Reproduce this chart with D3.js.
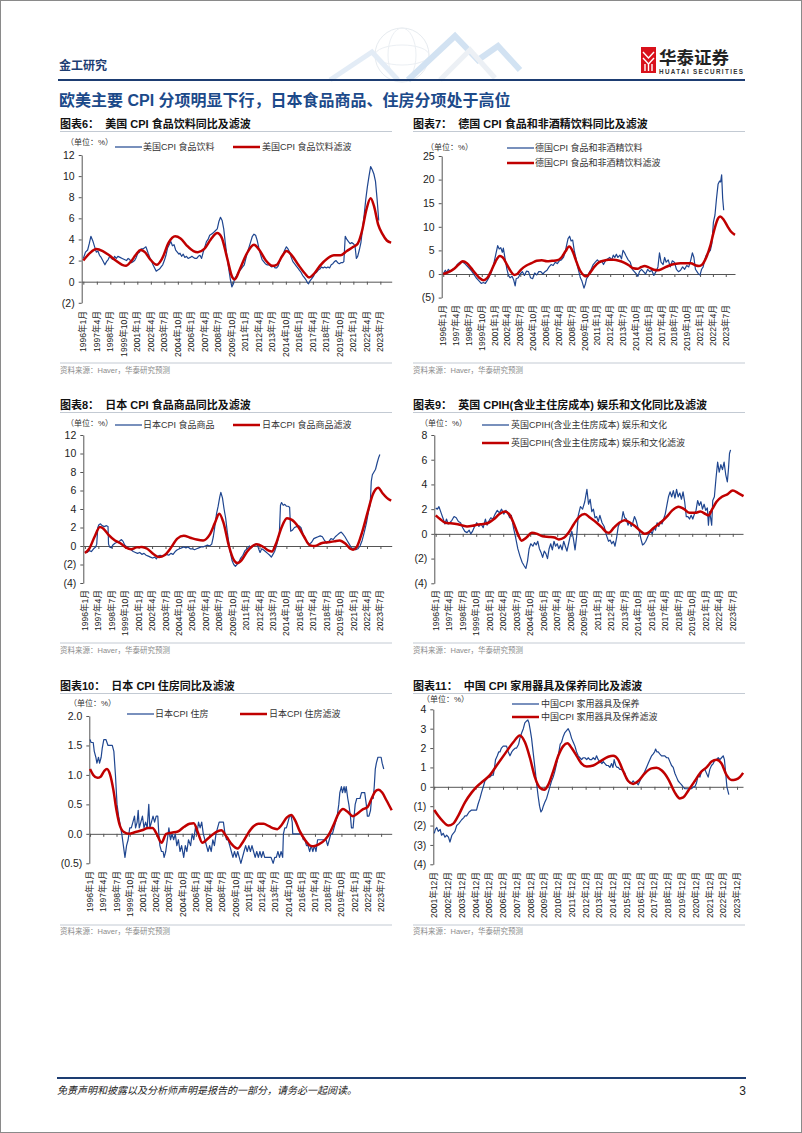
<!DOCTYPE html>
<html><head><meta charset="utf-8">
<script src="https://cdn.jsdelivr.net/npm/d3@7"></script>
<style>
body{margin:0;background:#fff;}
svg{display:block;}
text{font-family:"Liberation Sans","Noto Sans CJK SC",sans-serif;}
</style></head><body>
<svg id="page" width="802" height="1133"></svg>
<script>
// ---------------- DATA ----------------
const quarterLabels = ["1996年1月","1997年4月","1998年7月","1999年10月","2001年1月","2002年4月","2003年7月","2004年10月","2006年1月","2007年4月","2008年7月","2009年10月","2011年1月","2012年4月","2013年7月","2014年10月","2016年1月","2017年4月","2018年7月","2019年10月","2021年1月","2022年4月","2023年7月"];
const yearLabels = ["2001年12月","2002年12月","2003年12月","2004年12月","2005年12月","2006年12月","2007年12月","2008年12月","2009年12月","2010年12月","2011年12月","2012年12月","2013年12月","2014年12月","2015年12月","2016年12月","2017年12月","2018年12月","2019年12月","2020年12月","2021年12月","2022年12月","2023年12月"];

const usYTicks = [-2,0,2,4,6,8,10,12];
const deYTicks = [-5,0,5,10,15,20,25];
const jpFoodYTicks = [-4,-2,0,2,4,6,8,10,12];
const ukYTicks = [-4,-2,0,2,4,6,8];
const jpHouseYTicks = [-0.5,0,0.5,1.0,1.5,2.0];
const cnYTicks = [-4,-3,-2,-1,0,1,2,3,4];

const usFoodActual = [[1996.0,2.2],[1996.2,2.8],[1996.4,3.0],[1996.55,3.6],[1996.7,4.3],[1996.9,3.8],[1997.05,3.3],[1997.2,2.8],[1997.35,2.9],[1997.5,2.5],[1997.65,2.3],[1997.8,2.0],[1998.0,1.6],[1998.15,1.9],[1998.3,2.1],[1998.45,2.4],[1998.6,2.2],[1998.75,2.1],[1998.9,2.4],[1999.05,2.2],[1999.2,2.4],[1999.4,2.3],[1999.6,2.2],[1999.8,2.1],[2000.0,2.0],[2000.15,2.2],[2000.3,2.1],[2000.45,1.8],[2000.6,1.9],[2000.75,2.0],[2000.9,2.3],[2001.05,2.7],[2001.2,2.8],[2001.35,3.1],[2001.5,3.1],[2001.65,3.2],[2001.8,3.3],[2001.9,3.0],[2002.0,2.7],[2002.15,2.3],[2002.3,2.0],[2002.45,1.6],[2002.6,1.3],[2002.75,1.0],[2002.9,1.1],[2003.05,1.2],[2003.2,1.4],[2003.35,1.6],[2003.5,2.0],[2003.65,2.5],[2003.8,3.2],[2003.95,3.5],[2004.1,3.8],[2004.25,3.4],[2004.4,3.5],[2004.55,3.0],[2004.7,2.8],[2004.85,2.6],[2004.95,2.7],[2005.1,2.4],[2005.25,2.6],[2005.4,2.3],[2005.55,2.4],[2005.7,2.2],[2005.9,2.3],[2006.05,2.4],[2006.2,2.3],[2006.35,2.2],[2006.5,2.2],[2006.65,2.4],[2006.8,2.5],[2006.95,2.2],[2007.1,2.8],[2007.25,3.3],[2007.4,3.8],[2007.55,4.0],[2007.7,4.4],[2007.85,4.5],[2008.0,4.6],[2008.2,4.8],[2008.4,5.0],[2008.55,5.7],[2008.7,6.1],[2008.85,5.8],[2009.0,5.0],[2009.15,3.6],[2009.3,2.4],[2009.45,1.3],[2009.6,0.3],[2009.75,-0.5],[2009.9,-0.2],[2010.0,0.3],[2010.15,0.5],[2010.3,0.8],[2010.45,1.0],[2010.6,1.2],[2010.75,1.4],[2010.9,1.6],[2011.05,2.2],[2011.2,2.8],[2011.35,3.3],[2011.5,3.8],[2011.65,4.3],[2011.8,4.5],[2011.95,4.4],[2012.1,3.9],[2012.25,3.2],[2012.4,2.6],[2012.55,2.1],[2012.7,1.9],[2012.85,1.7],[2013.0,1.6],[2013.15,1.6],[2013.3,1.5],[2013.45,1.4],[2013.6,1.5],[2013.75,1.3],[2013.9,1.3],[2014.05,1.5],[2014.2,2.0],[2014.35,2.4],[2014.5,2.6],[2014.65,3.0],[2014.8,3.3],[2014.95,3.1],[2015.1,2.8],[2015.25,2.3],[2015.4,1.9],[2015.55,1.7],[2015.7,1.5],[2015.85,1.3],[2016.0,1.1],[2016.15,0.9],[2016.3,0.6],[2016.45,0.4],[2016.6,0.2],[2016.75,-0.1],[2016.85,-0.2],[2017.0,0.1],[2017.15,0.3],[2017.3,0.5],[2017.45,0.8],[2017.6,0.9],[2017.75,1.1],[2017.9,1.2],[2018.05,1.4],[2018.2,1.3],[2018.35,1.4],[2018.5,1.3],[2018.65,1.4],[2018.8,1.3],[2018.95,1.6],[2019.1,1.7],[2019.25,1.9],[2019.4,2.0],[2019.55,1.8],[2019.7,1.7],[2019.85,1.8],[2020.0,1.8],[2020.12,1.9],[2020.25,4.3],[2020.4,4.0],[2020.55,3.8],[2020.7,3.6],[2020.85,3.7],[2021.0,3.6],[2021.15,3.4],[2021.28,2.2],[2021.4,2.4],[2021.55,3.0],[2021.7,3.7],[2021.85,5.0],[2022.0,6.3],[2022.15,7.8],[2022.3,9.0],[2022.45,10.0],[2022.6,10.9],[2022.75,10.6],[2022.9,10.2],[2023.05,9.5],[2023.2,7.8],[2023.35,5.8]];
const usFoodFilter = [[1996.0,2.0],[1996.6,2.7],[1997.2,3.1],[1997.8,2.9],[1998.4,2.5],[1999.0,2.0],[1999.6,1.6],[1999.95,1.5],[2000.4,1.9],[2000.9,2.6],[2001.3,3.0],[2001.7,2.8],[2002.2,2.1],[2002.8,1.6],[2003.3,2.2],[2003.9,3.7],[2004.5,4.3],[2005.0,4.1],[2005.6,3.4],[2006.2,2.9],[2006.6,2.8],[2007.2,3.1],[2007.8,4.0],[2008.4,4.6],[2008.8,4.2],[2009.3,2.3],[2009.8,0.4],[2010.0,0.2],[2010.5,1.2],[2011.1,2.6],[2011.8,3.5],[2012.3,3.0],[2012.9,2.0],[2013.5,1.5],[2013.9,1.6],[2014.4,2.4],[2014.8,2.9],[2015.3,2.5],[2015.9,1.6],[2016.5,0.8],[2016.9,0.4],[2017.4,0.8],[2017.9,1.5],[2018.6,2.2],[2019.2,2.5],[2019.8,2.5],[2020.4,2.9],[2021.0,3.3],[2021.4,3.6],[2021.8,4.8],[2022.2,6.8],[2022.6,7.9],[2022.9,7.2],[2023.3,5.4],[2023.7,4.5],[2024.1,3.9],[2024.5,3.7]];

const deFoodActual = [[1996.0,0.0],[1996.2,0.8],[1996.35,0.3],[1996.5,1.0],[1996.7,0.5],[1996.9,1.0],[1997.1,1.2],[1997.3,1.8],[1997.5,2.3],[1997.7,2.6],[1997.9,2.5],[1998.1,2.2],[1998.4,1.5],[1998.7,0.8],[1998.9,0.2],[1999.2,-0.8],[1999.5,-1.5],[1999.7,-2.0],[1999.9,-1.8],[2000.1,-2.0],[2000.3,-1.3],[2000.5,-0.5],[2000.7,0.5],[2000.9,2.0],[2001.1,4.0],[2001.3,6.0],[2001.45,5.3],[2001.6,5.6],[2001.75,4.6],[2001.85,5.5],[2002.0,3.5],[2002.2,1.0],[2002.35,-0.3],[2002.5,-0.8],[2002.7,-0.5],[2002.85,-1.2],[2003.0,-2.5],[2003.1,-1.0],[2003.3,-0.8],[2003.5,0.0],[2003.7,0.5],[2003.9,-0.3],[2004.1,0.6],[2004.3,0.5],[2004.5,-0.8],[2004.7,-1.0],[2004.9,0.2],[2005.1,-0.2],[2005.3,0.5],[2005.5,0.5],[2005.7,0.0],[2005.9,0.5],[2006.1,0.8],[2006.3,1.5],[2006.5,2.0],[2006.7,1.8],[2006.9,2.5],[2007.1,2.2],[2007.3,2.8],[2007.5,3.0],[2007.7,3.5],[2007.85,4.5],[2008.0,6.0],[2008.15,7.5],[2008.3,8.0],[2008.45,7.0],[2008.6,7.2],[2008.75,5.0],[2008.9,3.5],[2009.05,1.8],[2009.2,0.5],[2009.35,-0.8],[2009.5,-1.5],[2009.7,-3.0],[2009.85,-2.0],[2009.95,-1.0],[2010.1,-0.5],[2010.25,0.5],[2010.4,1.0],[2010.6,2.0],[2010.8,2.5],[2011.0,3.0],[2011.2,2.5],[2011.4,2.8],[2011.6,2.0],[2011.8,2.8],[2012.0,3.2],[2012.2,3.5],[2012.4,3.0],[2012.55,4.0],[2012.7,3.5],[2012.85,4.2],[2013.0,3.5],[2013.2,4.0],[2013.35,3.2],[2013.5,5.0],[2013.65,4.5],[2013.8,3.8],[2014.0,3.0],[2014.2,2.5],[2014.4,1.0],[2014.6,0.5],[2014.8,0.0],[2014.95,-0.5],[2015.1,0.5],[2015.3,1.0],[2015.5,0.5],[2015.7,0.0],[2015.9,1.0],[2016.1,0.5],[2016.3,0.8],[2016.5,-0.3],[2016.7,0.5],[2016.9,1.5],[2017.05,4.5],[2017.2,2.5],[2017.4,2.0],[2017.55,3.5],[2017.7,2.5],[2017.9,3.0],[2018.1,1.5],[2018.3,2.8],[2018.5,2.5],[2018.7,1.0],[2018.9,0.5],[2019.1,0.8],[2019.3,1.5],[2019.5,1.0],[2019.7,1.8],[2019.9,1.5],[2020.1,3.0],[2020.25,4.5],[2020.4,3.5],[2020.55,1.0],[2020.7,0.5],[2020.85,0.0],[2021.0,-0.2],[2021.15,1.0],[2021.3,1.5],[2021.45,3.0],[2021.6,4.0],[2021.8,4.5],[2022.0,5.0],[2022.15,6.5],[2022.3,11.0],[2022.45,12.5],[2022.6,16.0],[2022.75,19.0],[2022.9,19.7],[2023.0,19.5],[2023.1,21.0],[2023.2,16.0],[2023.3,13.5]];
const deFoodFilter = [[1996.0,0.0],[1996.5,0.4],[1997.0,1.0],[1997.5,2.0],[1997.9,2.7],[1998.3,2.3],[1998.7,1.3],[1999.1,0.2],[1999.5,-0.8],[1999.9,-1.3],[2000.3,-0.8],[2000.7,0.8],[2001.1,2.7],[2001.5,3.8],[2001.8,3.5],[2002.2,2.0],[2002.6,0.5],[2002.9,-0.2],[2003.2,0.0],[2003.6,1.0],[2004.1,1.8],[2004.6,2.3],[2005.1,2.8],[2005.6,2.9],[2006.1,2.7],[2006.6,2.8],[2007.1,2.9],[2007.5,3.5],[2007.9,4.8],[2008.25,5.8],[2008.6,4.8],[2008.9,3.0],[2009.3,0.8],[2009.7,-0.3],[2009.95,-0.5],[2010.3,0.3],[2010.7,1.5],[2011.1,2.4],[2011.6,2.8],[2012.1,3.0],[2012.6,3.0],[2013.1,2.8],[2013.6,2.4],[2014.1,1.8],[2014.5,1.2],[2014.9,1.1],[2015.3,1.5],[2015.6,1.7],[2016.0,1.4],[2016.5,0.9],[2016.9,0.8],[2017.4,1.2],[2017.9,1.7],[2018.5,2.1],[2019.1,2.3],[2019.6,2.3],[2020.1,2.3],[2020.6,1.8],[2020.9,1.7],[2021.2,2.0],[2021.6,3.5],[2022.0,6.0],[2022.4,9.5],[2022.75,11.8],[2022.95,12.2],[2023.3,11.5],[2023.7,10.0],[2024.0,9.0],[2024.4,8.3]];

const jpFoodActual = [[1996.0,-0.6],[1996.2,-0.7],[1996.4,-0.5],[1996.6,-0.6],[1996.8,-0.3],[1997.0,-0.1],[1997.1,0.2],[1997.2,2.0],[1997.3,2.3],[1997.45,2.4],[1997.6,2.2],[1997.8,2.1],[1998.0,2.2],[1998.15,2.1],[1998.2,0.2],[1998.3,-0.1],[1998.45,-0.2],[1998.6,0.1],[1998.8,0.3],[1999.0,0.4],[1999.2,0.5],[1999.4,0.7],[1999.55,0.5],[1999.7,0.1],[1999.9,-0.1],[2000.1,-0.3],[2000.3,-0.4],[2000.5,-0.6],[2000.7,-0.7],[2000.9,-0.8],[2001.1,-0.7],[2001.3,-0.9],[2001.5,-0.8],[2001.7,-1.0],[2001.9,-1.1],[2002.1,-1.2],[2002.3,-1.3],[2002.5,-1.2],[2002.65,-1.4],[2002.8,-1.1],[2003.0,-1.0],[2003.2,-1.1],[2003.4,-1.0],[2003.6,-0.9],[2003.8,-1.0],[2004.0,-0.8],[2004.2,-0.9],[2004.4,-0.6],[2004.6,-0.4],[2004.8,-0.3],[2005.0,-0.2],[2005.2,-0.1],[2005.4,-0.2],[2005.6,-0.1],[2005.8,-0.3],[2006.0,-0.3],[2006.2,-0.4],[2006.4,-0.3],[2006.6,-0.2],[2006.8,-0.1],[2007.0,-0.1],[2007.2,0.0],[2007.4,0.1],[2007.6,0.0],[2007.8,0.2],[2007.95,1.0],[2008.1,2.2],[2008.25,3.5],[2008.4,4.3],[2008.55,5.3],[2008.65,5.8],[2008.8,5.2],[2008.95,4.0],[2009.1,3.0],[2009.25,1.5],[2009.4,0.3],[2009.55,-0.8],[2009.7,-1.6],[2009.85,-2.0],[2010.0,-2.2],[2010.15,-2.0],[2010.3,-1.8],[2010.5,-1.3],[2010.7,-1.0],[2010.9,-0.5],[2011.1,-0.3],[2011.3,0.0],[2011.5,-0.2],[2011.7,0.1],[2011.9,0.2],[2012.05,0.1],[2012.2,-0.4],[2012.3,-0.7],[2012.45,-0.3],[2012.6,-0.4],[2012.8,-0.6],[2013.0,-0.8],[2013.2,-1.0],[2013.35,-1.2],[2013.5,-0.9],[2013.65,-0.6],[2013.8,-0.1],[2013.95,0.6],[2014.1,1.5],[2014.2,4.4],[2014.3,4.7],[2014.45,4.4],[2014.6,4.5],[2014.75,4.3],[2014.9,4.3],[2015.05,4.2],[2015.15,1.6],[2015.3,1.7],[2015.5,2.0],[2015.7,2.1],[2015.9,2.2],[2016.1,2.0],[2016.3,1.3],[2016.5,0.8],[2016.7,0.4],[2016.9,0.2],[2017.1,0.4],[2017.3,0.8],[2017.5,0.9],[2017.7,1.0],[2017.9,1.1],[2018.1,1.0],[2018.3,0.6],[2018.5,0.3],[2018.7,0.5],[2018.9,0.8],[2019.1,0.7],[2019.3,1.0],[2019.5,1.2],[2019.7,1.4],[2019.85,1.5],[2020.0,1.3],[2020.2,1.0],[2020.4,0.6],[2020.6,0.2],[2020.8,-0.2],[2021.0,-0.3],[2021.2,-0.4],[2021.4,-0.3],[2021.6,0.0],[2021.8,0.6],[2022.0,1.5],[2022.2,2.5],[2022.4,3.8],[2022.55,4.5],[2022.65,7.0],[2022.75,7.7],[2022.9,8.0],[2023.05,8.3],[2023.2,9.0],[2023.35,9.6],[2023.45,9.9]];
const jpFoodFilter = [[1996.0,-0.75],[1996.4,-0.3],[1996.9,1.0],[1997.4,2.05],[1997.7,1.9],[1998.2,1.2],[1998.8,0.6],[1999.3,0.3],[1999.8,-0.15],[2000.3,-0.35],[2000.8,-0.15],[2001.3,-0.1],[2001.8,-0.3],[2002.4,-0.9],[2002.9,-1.2],[2003.4,-1.0],[2004.0,-0.2],[2004.6,0.8],[2005.2,1.1],[2005.8,0.9],[2006.4,0.7],[2007.0,0.6],[2007.6,1.2],[2008.1,2.5],[2008.5,3.5],[2008.9,2.5],[2009.4,0.0],[2009.9,-1.6],[2010.2,-1.85],[2010.6,-1.5],[2011.1,-0.6],[2011.6,0.0],[2012.0,0.2],[2012.6,-0.1],[2013.1,-0.5],[2013.4,-0.6],[2013.8,0.3],[2014.3,2.0],[2014.8,3.0],[2015.3,2.8],[2015.9,2.0],[2016.4,1.0],[2016.9,0.1],[2017.4,0.0],[2018.0,0.3],[2018.6,0.4],[2019.2,0.5],[2019.7,0.6],[2020.2,0.3],[2020.7,-0.3],[2020.95,-0.4],[2021.3,-0.1],[2021.8,1.5],[2022.3,3.6],[2022.8,5.6],[2023.3,6.3],[2023.7,5.7],[2024.1,5.2],[2024.5,4.9]];

const ukRecActual = [[1996.0,2.1],[1996.15,2.0],[1996.3,2.2],[1996.5,1.7],[1996.7,1.2],[1996.85,0.8],[1997.0,1.2],[1997.15,0.8],[1997.3,0.9],[1997.5,1.1],[1997.7,1.4],[1997.9,1.3],[1998.1,1.0],[1998.3,0.9],[1998.5,0.5],[1998.7,0.2],[1998.9,0.1],[1999.1,0.3],[1999.25,0.0],[1999.4,0.2],[1999.6,0.6],[1999.8,0.9],[2000.0,0.6],[2000.2,0.8],[2000.4,0.5],[2000.6,1.2],[2000.75,0.7],[2000.9,1.0],[2001.1,1.3],[2001.3,1.2],[2001.5,1.6],[2001.7,1.9],[2001.9,1.7],[2002.1,2.0],[2002.3,1.6],[2002.5,1.9],[2002.7,1.6],[2002.85,1.3],[2003.0,1.5],[2003.2,0.5],[2003.4,-0.3],[2003.6,-1.2],[2003.8,-1.8],[2004.0,-2.3],[2004.2,-2.6],[2004.35,-2.8],[2004.5,-2.2],[2004.65,-1.2],[2004.8,-0.8],[2005.0,-1.0],[2005.15,-0.7],[2005.3,-0.9],[2005.45,-0.6],[2005.6,-1.2],[2005.75,-1.5],[2005.9,-1.9],[2006.05,-1.4],[2006.2,-1.6],[2006.35,-2.0],[2006.5,-1.2],[2006.65,-0.8],[2006.8,-1.3],[2006.95,-0.6],[2007.1,-1.0],[2007.25,-0.8],[2007.4,-1.2],[2007.55,-0.9],[2007.7,-1.3],[2007.85,-0.6],[2008.0,-1.0],[2008.15,-1.4],[2008.3,-0.8],[2008.45,-0.2],[2008.6,0.2],[2008.75,-0.4],[2008.9,-1.3],[2009.05,-0.2],[2009.2,1.5],[2009.4,2.2],[2009.6,2.0],[2009.8,2.6],[2010.0,3.6],[2010.15,2.4],[2010.3,2.8],[2010.45,1.8],[2010.6,2.0],[2010.75,1.3],[2010.9,1.4],[2011.05,1.0],[2011.2,1.5],[2011.4,0.9],[2011.6,0.6],[2011.8,-0.1],[2012.0,-0.6],[2012.15,-0.5],[2012.3,-0.8],[2012.45,-0.6],[2012.6,-1.0],[2012.75,-0.3],[2012.9,0.6],[2013.05,0.9],[2013.2,1.0],[2013.35,1.8],[2013.5,1.3],[2013.65,1.2],[2013.8,0.7],[2013.95,1.0],[2014.1,0.6],[2014.25,0.9],[2014.4,1.4],[2014.55,1.1],[2014.7,0.6],[2014.85,0.2],[2015.0,-0.4],[2015.15,-0.9],[2015.3,-0.8],[2015.45,-0.6],[2015.6,-0.3],[2015.75,0.0],[2015.9,0.2],[2016.05,0.0],[2016.2,0.5],[2016.35,0.3],[2016.5,0.9],[2016.65,0.6],[2016.8,1.0],[2016.95,0.8],[2017.1,1.2],[2017.25,1.6],[2017.4,2.3],[2017.55,3.0],[2017.7,3.4],[2017.85,3.0],[2018.0,3.5],[2018.15,2.9],[2018.3,3.6],[2018.45,3.0],[2018.6,3.3],[2018.75,2.8],[2018.9,3.4],[2019.05,2.6],[2019.2,1.4],[2019.35,1.4],[2019.5,1.2],[2019.65,1.5],[2019.8,1.2],[2019.95,1.6],[2020.1,1.9],[2020.25,2.7],[2020.4,2.3],[2020.55,2.6],[2020.7,2.0],[2020.85,2.4],[2021.0,1.9],[2021.15,2.1],[2021.25,0.7],[2021.35,1.8],[2021.45,1.3],[2021.55,0.7],[2021.65,2.7],[2021.8,3.0],[2021.95,4.5],[2022.1,5.8],[2022.25,5.0],[2022.4,5.6],[2022.55,5.2],[2022.7,5.8],[2022.85,4.8],[2023.0,4.2],[2023.1,5.2],[2023.2,6.5],[2023.3,6.8]];
const ukRecFilter = [[1996.0,1.5],[1996.4,1.2],[1996.9,0.9],[1997.4,0.85],[1997.9,0.8],[1998.4,0.7],[1998.9,0.6],[1999.4,0.65],[1999.9,0.75],[2000.4,0.8],[2000.9,0.9],[2001.4,1.2],[2001.9,1.6],[2002.4,1.8],[2002.8,1.6],[2003.2,0.9],[2003.6,0.0],[2003.95,-0.55],[2004.4,-0.3],[2004.9,0.1],[2005.4,0.0],[2005.9,-0.2],[2006.5,-0.25],[2007.0,-0.3],[2007.4,-0.45],[2007.9,-0.3],[2008.3,0.1],[2008.8,0.8],[2009.3,1.4],[2009.8,1.6],[2010.3,1.3],[2010.9,0.9],[2011.4,0.5],[2011.8,0.15],[2012.05,0.1],[2012.5,0.5],[2013.0,0.9],[2013.5,1.1],[2014.0,0.9],[2014.5,0.6],[2015.0,0.2],[2015.35,0.0],[2015.7,0.1],[2016.2,0.5],[2016.8,0.9],[2017.4,1.4],[2017.9,1.9],[2018.5,2.2],[2019.0,2.0],[2019.5,1.7],[2020.0,1.7],[2020.5,1.8],[2021.0,1.6],[2021.25,1.5],[2021.6,2.0],[2022.0,2.6],[2022.5,3.0],[2023.0,3.2],[2023.5,3.5],[2024.0,3.3],[2024.5,3.05]];

const jpHousingActual = [[1996.0,1.6],[1996.1,1.55],[1996.3,1.55],[1996.4,1.4],[1996.55,1.3],[1996.65,1.2],[1996.8,1.3],[1996.9,1.2],[1997.05,1.3],[1997.15,1.45],[1997.3,1.6],[1997.5,1.6],[1997.6,1.55],[1997.7,1.5],[1997.9,1.5],[1998.1,1.5],[1998.25,1.4],[1998.4,1.0],[1998.55,0.5],[1998.7,0.3],[1998.85,0.15],[1999.0,0.0],[1999.15,-0.2],[1999.3,-0.4],[1999.45,-0.2],[1999.6,-0.1],[1999.75,0.1],[1999.9,0.1],[2000.05,0.2],[2000.2,0.3],[2000.3,0.1],[2000.45,0.2],[2000.55,0.4],[2000.65,0.1],[2000.8,0.2],[2000.95,0.3],[2001.1,0.1],[2001.25,0.2],[2001.4,0.1],[2001.55,0.5],[2001.65,0.1],[2001.8,0.2],[2001.95,0.3],[2002.1,0.2],[2002.25,0.3],[2002.4,0.3],[2002.5,0.0],[2002.6,-0.2],[2002.75,-0.3],[2002.9,-0.3],[2003.0,-0.4],[2003.15,-0.3],[2003.3,-0.1],[2003.45,0.1],[2003.6,-0.1],[2003.75,0.0],[2003.9,-0.1],[2004.05,0.0],[2004.2,-0.2],[2004.35,-0.1],[2004.5,-0.3],[2004.65,-0.2],[2004.85,-0.4],[2005.0,-0.2],[2005.15,-0.3],[2005.3,-0.1],[2005.5,-0.2],[2005.65,0.0],[2005.8,-0.1],[2005.95,0.1],[2006.1,0.0],[2006.25,0.2],[2006.4,0.1],[2006.55,0.2],[2006.7,0.0],[2006.85,-0.1],[2007.0,-0.2],[2007.15,-0.3],[2007.3,-0.2],[2007.45,-0.3],[2007.6,-0.1],[2007.75,-0.2],[2007.9,0.0],[2008.05,0.1],[2008.2,0.2],[2008.4,0.2],[2008.6,0.2],[2008.75,0.0],[2008.9,-0.1],[2009.05,-0.1],[2009.2,-0.2],[2009.35,-0.3],[2009.5,-0.4],[2009.65,-0.3],[2009.8,-0.4],[2009.95,-0.3],[2010.1,-0.4],[2010.25,-0.5],[2010.4,-0.4],[2010.55,-0.3],[2010.7,-0.2],[2010.85,-0.3],[2011.0,-0.2],[2011.15,-0.3],[2011.3,-0.2],[2011.45,-0.3],[2011.6,-0.4],[2011.75,-0.3],[2011.9,-0.4],[2012.05,-0.3],[2012.2,-0.4],[2012.35,-0.3],[2012.5,-0.4],[2012.8,-0.4],[2013.1,-0.4],[2013.3,-0.5],[2013.45,-0.4],[2013.6,-0.4],[2013.75,-0.3],[2013.9,-0.4],[2014.05,-0.3],[2014.2,-0.4],[2014.27,0.0],[2014.4,0.1],[2014.55,0.1],[2014.7,0.2],[2014.85,0.3],[2015.0,0.3],[2015.1,0.2],[2015.15,0.0],[2015.4,0.0],[2015.7,0.0],[2016.0,0.0],[2016.15,-0.1],[2016.3,-0.1],[2016.45,-0.2],[2016.6,-0.2],[2016.75,-0.3],[2016.9,-0.2],[2017.05,-0.3],[2017.2,-0.2],[2017.35,-0.3],[2017.5,-0.1],[2017.7,-0.1],[2017.9,-0.1],[2018.1,-0.1],[2018.3,-0.1],[2018.45,-0.2],[2018.6,-0.1],[2018.75,0.0],[2018.9,0.0],[2019.05,0.1],[2019.2,0.2],[2019.35,0.3],[2019.5,0.5],[2019.6,0.7],[2019.75,0.8],[2019.85,0.7],[2020.0,0.8],[2020.1,0.7],[2020.2,0.8],[2020.35,0.6],[2020.45,0.5],[2020.6,0.3],[2020.7,0.1],[2020.85,0.1],[2020.95,0.3],[2021.05,0.5],[2021.2,0.6],[2021.35,0.6],[2021.5,0.6],[2021.65,0.7],[2021.8,0.7],[2021.95,0.7],[2022.1,0.5],[2022.2,0.3],[2022.35,0.3],[2022.5,0.4],[2022.6,0.6],[2022.75,0.6],[2022.85,0.8],[2022.95,1.1],[2023.05,1.2],[2023.2,1.3],[2023.35,1.3],[2023.5,1.3],[2023.6,1.2],[2023.75,1.1]];
const jpHousingFilter = [[1996.0,1.1],[1996.3,1.0],[1996.7,0.95],[1997.0,0.97],[1997.35,1.07],[1997.6,1.1],[1997.9,1.0],[1998.2,0.75],[1998.5,0.4],[1998.8,0.15],[1999.2,0.03],[1999.7,0.0],[2000.3,0.03],[2000.9,0.06],[2001.5,0.1],[2001.9,0.1],[2002.3,0.0],[2002.75,-0.15],[2003.2,0.0],[2003.7,0.02],[2004.3,0.04],[2004.9,0.12],[2005.4,0.17],[2005.8,0.18],[2006.2,0.02],[2006.6,-0.15],[2007.2,-0.07],[2007.9,0.03],[2008.4,0.06],[2008.9,-0.05],[2009.4,-0.18],[2009.95,-0.25],[2010.4,-0.15],[2010.9,0.0],[2011.4,0.12],[2011.9,0.17],[2012.4,0.17],[2012.9,0.13],[2013.4,0.09],[2013.7,0.08],[2014.1,0.15],[2014.6,0.28],[2015.0,0.32],[2015.4,0.22],[2015.8,0.05],[2016.3,-0.1],[2016.8,-0.2],[2017.1,-0.21],[2017.6,-0.18],[2018.2,-0.1],[2018.6,0.0],[2019.0,0.15],[2019.5,0.35],[2019.9,0.42],[2020.3,0.38],[2020.85,0.3],[2021.3,0.35],[2021.8,0.42],[2022.2,0.45],[2022.6,0.6],[2022.95,0.72],[2023.25,0.75],[2023.6,0.7],[2024.0,0.57],[2024.5,0.4]];

const cnApplianceActual = [[2001.92,-2.4],[2002.0,-2.2],[2002.1,-2.1],[2002.21,-2.3],[2002.35,-2.2],[2002.45,-2.5],[2002.57,-2.4],[2002.7,-2.6],[2002.82,-2.5],[2002.95,-2.6],[2003.06,-2.85],[2003.2,-2.5],[2003.3,-2.4],[2003.42,-2.3],[2003.55,-2.0],[2003.7,-1.9],[2003.91,-1.7],[2004.05,-1.6],[2004.15,-1.5],[2004.27,-1.5],[2004.45,-1.3],[2004.63,-1.2],[2004.8,-1.2],[2004.99,-1.2],[2005.1,-0.9],[2005.24,-0.6],[2005.35,-0.3],[2005.48,0.0],[2005.6,0.3],[2005.72,0.4],[2005.85,0.5],[2005.96,0.5],[2006.1,0.6],[2006.21,0.6],[2006.3,1.0],[2006.37,1.4],[2006.5,1.6],[2006.6,1.8],[2006.69,1.8],[2006.8,2.0],[2006.93,2.1],[2007.05,2.1],[2007.17,2.1],[2007.3,1.8],[2007.42,1.6],[2007.55,1.8],[2007.66,1.9],[2007.8,2.0],[2007.9,2.0],[2008.05,2.2],[2008.14,2.5],[2008.28,2.8],[2008.39,3.0],[2008.5,3.3],[2008.63,3.4],[2008.72,3.45],[2008.8,3.3],[2008.9,2.9],[2008.99,2.5],[2009.1,1.8],[2009.23,1.0],[2009.35,0.2],[2009.47,-0.5],[2009.57,-1.0],[2009.67,-1.3],[2009.76,-1.2],[2009.84,-1.0],[2009.95,-0.8],[2010.08,-0.6],[2010.2,-0.3],[2010.32,0.0],[2010.44,0.3],[2010.56,0.5],[2010.68,0.8],[2010.81,1.2],[2010.95,1.7],[2011.07,2.2],[2011.17,2.3],[2011.29,2.6],[2011.41,2.8],[2011.53,2.9],[2011.65,3.0],[2011.78,2.8],[2011.9,2.5],[2012.02,2.3],[2012.14,2.1],[2012.26,1.8],[2012.38,1.6],[2012.5,1.5],[2012.62,1.4],[2012.74,1.5],[2012.86,1.5],[2013.0,1.4],[2013.1,1.5],[2013.23,1.4],[2013.35,1.4],[2013.47,1.5],[2013.6,1.4],[2013.71,1.6],[2013.83,1.4],[2013.95,1.3],[2014.1,1.2],[2014.2,1.3],[2014.32,1.2],[2014.44,1.1],[2014.56,1.1],[2014.68,1.0],[2014.8,1.2],[2014.9,1.0],[2014.99,1.4],[2015.1,1.1],[2015.2,1.0],[2015.28,1.0],[2015.4,0.9],[2015.53,0.9],[2015.65,0.8],[2015.77,0.7],[2015.88,0.4],[2016.01,0.3],[2016.13,0.2],[2016.25,0.2],[2016.37,0.3],[2016.49,0.2],[2016.62,0.2],[2016.74,0.1],[2016.86,0.3],[2016.98,0.5],[2017.1,0.6],[2017.22,0.8],[2017.34,1.0],[2017.46,1.2],[2017.58,1.4],[2017.71,1.6],[2017.83,1.7],[2017.93,1.8],[2018.0,1.95],[2018.1,1.8],[2018.19,1.8],[2018.3,1.7],[2018.43,1.6],[2018.55,1.6],[2018.67,1.6],[2018.8,1.5],[2018.92,1.5],[2019.04,1.3],[2019.16,1.1],[2019.28,1.0],[2019.4,0.7],[2019.52,0.5],[2019.64,0.3],[2019.76,0.2],[2019.89,0.1],[2020.0,0.0],[2020.13,-0.1],[2020.25,-0.1],[2020.37,-0.1],[2020.49,-0.1],[2020.61,-0.1],[2020.73,0.0],[2020.85,0.0],[2020.97,0.2],[2021.1,0.6],[2021.22,0.5],[2021.34,0.8],[2021.46,0.9],[2021.58,0.9],[2021.7,0.7],[2021.82,0.5],[2021.94,0.9],[2022.06,1.1],[2022.19,1.2],[2022.31,1.4],[2022.43,1.4],[2022.55,1.5],[2022.67,1.4],[2022.79,1.5],[2022.91,1.6],[2023.0,1.4],[2023.08,0.8],[2023.18,0.0],[2023.32,-0.4]];
const cnApplianceFilter = [[2001.92,-1.2],[2002.21,-1.5],[2002.57,-1.8],[2002.94,-2.0],[2003.3,-1.9],[2003.66,-1.5],[2004.15,-0.8],[2004.63,-0.3],[2004.99,0.0],[2005.48,0.3],[2005.96,0.6],[2006.45,1.1],[2007.05,1.7],[2007.66,2.3],[2008.14,2.65],[2008.51,2.3],[2008.87,1.5],[2009.23,0.5],[2009.6,-0.05],[2009.91,-0.15],[2010.2,0.1],[2010.56,0.8],[2010.93,1.6],[2011.29,2.1],[2011.6,2.25],[2011.9,2.0],[2012.26,1.6],[2012.62,1.2],[2012.99,1.05],[2013.47,1.1],[2013.95,1.3],[2014.56,1.55],[2014.92,1.6],[2015.28,1.4],[2015.65,0.8],[2016.01,0.3],[2016.37,0.15],[2016.74,0.3],[2017.22,0.7],[2017.71,0.95],[2018.07,0.98],[2018.43,0.85],[2018.92,0.4],[2019.4,-0.3],[2019.76,-0.6],[2020.01,-0.55],[2020.37,-0.2],[2020.85,0.3],[2021.34,0.8],[2021.7,1.0],[2022.07,1.3],[2022.43,1.4],[2022.79,1.2],[2023.16,0.6],[2023.52,0.35],[2023.83,0.38],[2024.12,0.5],[2024.36,0.72]];

// ---------------- LAYOUT ----------------
const BLUE = "#1f4690", RED = "#c00000", NAVY = "#1d3d72";
const svg = d3.select("#page");
svg.append("rect").attr("x",0.5).attr("y",0.5).attr("width",801).attr("height",1132).attr("fill","#fff").attr("stroke","#8a8a8a");

// watermark
const wm = svg.append("g").attr("opacity",0.45);
wm.append("circle").attr("cx",402).attr("cy",55).attr("r",27).attr("fill","none").attr("stroke","#c9d3dd").attr("stroke-width",1);
wm.append("ellipse").attr("cx",402).attr("cy",55).attr("rx",14).attr("ry",27).attr("fill","none").attr("stroke","#d5dde6");
wm.append("ellipse").attr("cx",402).attr("cy",55).attr("rx",27).attr("ry",10).attr("fill","none").attr("stroke","#d5dde6");
wm.append("polyline").attr("points","330,80 372,52 398,80").attr("fill","none").attr("stroke","#c2d6ec").attr("stroke-width",5);
wm.append("polyline").attr("points","408,80 455,36 478,60 498,46 520,70").attr("fill","none").attr("stroke","#9cc0e4").attr("stroke-width",6);
wm.append("polyline").attr("points","440,80 470,50 495,78").attr("fill","none").attr("stroke","#d6e0ea").attr("stroke-width",5);

// header
svg.append("text").attr("x",59).attr("y",70).attr("font-size",12).attr("font-weight","bold").attr("fill",NAVY).text("金工研究");
svg.append("line").attr("x1",58).attr("x2",745).attr("y1",80).attr("y2",80).attr("stroke",NAVY).attr("stroke-width",2);
svg.append("text").attr("x",59).attr("y",106).attr("font-size",16).attr("font-weight","bold").attr("fill","#1c4a8a").text("欧美主要 CPI 分项明显下行，日本食品商品、住房分项处于高位");
// logo
const lg = svg.append("g");
lg.append("rect").attr("x",641).attr("y",47).attr("width",15).attr("height",26).attr("fill","#d9111b");
lg.append("path").attr("d","M643,52 L648.5,58 L654,52 M643,58 L648.5,64 L654,58 M645,64 L645,71 M648.5,64 L648.5,71 M652,64 L652,71").attr("stroke","#fff").attr("stroke-width",1.4).attr("fill","none");
lg.append("text").attr("x",659).attr("y",64).attr("font-size",17.5).attr("font-weight","bold").attr("fill","#222").text("华泰证券");
lg.append("text").attr("x",659).attr("y",73.5).attr("font-size",6.3).attr("font-weight","bold").attr("fill","#333").attr("textLength",84).text("HUATAI SECURITIES");

// footer
svg.append("line").attr("x1",57).attr("x2",746).attr("y1",1078).attr("y2",1078).attr("stroke",NAVY).attr("stroke-width",2);
svg.append("text").attr("x",57).attr("y",1094).attr("font-size",10).attr("font-style","italic").attr("fill","#222").text("免责声明和披露以及分析师声明是报告的一部分，请务必一起阅读。");
svg.append("text").attr("x",746).attr("y",1095).attr("font-size",12).attr("text-anchor","end").attr("fill","#222").text("3");

function parseLabel(s){ const m = s.match(/(\d+)年(\d+)月/); return +m[1] + (+m[2]-1)/12; }
const fmtInt = v => v < 0 ? `(${-v})` : `${v}`;
const fmt1 = v => v < 0 ? `(${d3.format(".1f")(-v)})` : d3.format(".1f")(v);

const charts = [
 {title:"图表6：  美国 CPI 食品饮料同比及滤波", tx:60, ty:128, ruleX2:392, left:81.7, right:391.7, top:155, bottom:302.8, yDomain:[-2,12], yTicks:usYTicks, fmt:fmtInt, xDomain:[1995.85,2024.55], xLabels:quarterLabels, actual:usFoodActual, filter:usFoodFilter,
  unit:[66,145], leg:[{x:115,y:147,tx:143,t:"美国CPI 食品饮料",red:false},{x:233,y:147,tx:262,t:"美国CPI 食品饮料滤波",red:true}], labelTop:311, srcLine:363, srcY:373},
 {title:"图表7：  德国 CPI 食品和非酒精饮料同比及滤波", tx:413, ty:128, ruleX2:745, left:441.7, right:735, top:156, bottom:297.6, yDomain:[-5,25], yTicks:deYTicks, fmt:fmtInt, xDomain:[1995.85,2024.4], xLabels:quarterLabels, actual:deFoodActual, filter:deFoodFilter,
  unit:[426,150], leg:[{x:507,y:148,tx:535,t:"德国CPI 食品和非酒精饮料",red:false},{x:507,y:163,tx:535,t:"德国CPI 食品和非酒精饮料滤波",red:true}], labelTop:305, srcLine:363, srcY:373},
 {title:"图表8：  日本 CPI 食品商品同比及滤波", tx:60, ty:409, ruleX2:392, left:83.3, right:391.7, top:435, bottom:583, yDomain:[-4,12], yTicks:jpFoodYTicks, fmt:fmtInt, xDomain:[1995.85,2024.55], xLabels:quarterLabels, actual:jpFoodActual, filter:jpFoodFilter,
  unit:[66,426], leg:[{x:115,y:425,tx:143,t:"日本CPI 食品商品",red:false},{x:233,y:425,tx:262,t:"日本CPI 食品商品滤波",red:true}], labelTop:590, srcLine:643, srcY:653},
 {title:"图表9：  英国 CPIH(含业主住房成本) 娱乐和文化同比及滤波", tx:413, ty:409, ruleX2:745, left:434.3, right:743, top:435, bottom:583.3, yDomain:[-4,8], yTicks:ukYTicks, fmt:fmtInt, xDomain:[1995.87,2024.45], xLabels:quarterLabels, actual:ukRecActual, filter:ukRecFilter,
  unit:[420,426], leg:[{x:482,y:425,tx:511,t:"英国CPIH(含业主住房成本) 娱乐和文化",red:false},{x:482,y:443,tx:511,t:"英国CPIH(含业主住房成本) 娱乐和文化滤波",red:true}], labelTop:590, srcLine:643, srcY:653},
 {title:"图表10：  日本 CPI 住房同比及滤波", tx:60, ty:690, ruleX2:392, left:89.3, right:391.7, top:716, bottom:863.3, yDomain:[-0.5,2.0], yTicks:jpHouseYTicks, fmt:fmt1, xDomain:[1995.93,2024.5], xLabels:quarterLabels, actual:jpHousingActual, filter:jpHousingFilter,
  unit:[69,706], leg:[{x:127,y:714,tx:155,t:"日本CPI 住房",red:false},{x:240,y:714,tx:269,t:"日本CPI 住房滤波",red:true}], labelTop:871, srcLine:925, srcY:934},
 {title:"图表11：  中国 CPI 家用器具及保养同比及滤波", tx:413, ty:690, ruleX2:745, left:433.3, right:743, top:709.3, bottom:864.3, yDomain:[-4,4], yTicks:cnYTicks, fmt:fmtInt, xDomain:[2001.85,2024.35], xLabels:yearLabels, actual:cnApplianceActual, filter:cnApplianceFilter,
  unit:[422,702], leg:[{x:512,y:704,tx:541,t:"中国CPI 家用器具及保养",red:false},{x:512,y:717,tx:541,t:"中国CPI 家用器具及保养滤波",red:true}], labelTop:872, srcLine:925, srcY:934}
];

function drawChart(c){
  const g = svg.append("g");
  const x = d3.scaleLinear().domain(c.xDomain).range([c.left, c.right]);
  const y = d3.scaleLinear().domain(c.yDomain).range([c.bottom, c.top]);
  const colX1 = c.tx;
  g.append("text").attr("x",c.tx).attr("y",c.ty).attr("font-size",11).attr("font-weight","bold").attr("fill","#111").style("white-space","pre").text(c.title);
  g.append("line").attr("x1",colX1).attr("x2",c.ruleX2).attr("y1",c.ty+3.5).attr("y2",c.ty+3.5).attr("stroke","#c3cad3").attr("stroke-width",1);

  // y axis
  const ya = g.append("g").attr("transform",`translate(${c.left},0)`)
    .call(d3.axisLeft(y).tickValues(c.yTicks).tickFormat(c.fmt).tickSize(3).tickSizeOuter(0).tickPadding(4));
  ya.attr("font-family",null).attr("font-size",null);
  ya.selectAll("path,line").attr("stroke","#555");
  ya.selectAll("text").attr("font-size",10.5).attr("fill","#222");

  // x axis at zero
  const xt = c.xLabels.map(parseLabel);
  const xa = g.append("g").attr("transform",`translate(0,${y(0)})`)
    .call(d3.axisBottom(x).tickValues(xt).tickFormat("").tickSize(3).tickSizeOuter(0));
  xa.selectAll("path,line").attr("stroke","#555");

  g.selectAll(".xl").data(c.xLabels).join("text")
    .attr("transform", d => `translate(${x(parseLabel(d))},${c.labelTop}) rotate(-90)`)
    .attr("text-anchor","end").attr("dy","0.35em").attr("font-size",8.6).attr("fill","#222").text(d => d);

  // series
  const line = d3.line().x(d => x(d[0])).y(d => y(d[1]));
  g.append("path").datum(c.actual).attr("d", line.curve(d3.curveLinear)).attr("fill","none").attr("stroke",BLUE).attr("stroke-width",1.2).attr("stroke-linejoin","round");
  g.append("path").datum(c.filter).attr("d", d3.line().x(d => x(d[0])).y(d => y(d[1])).curve(d3.curveMonotoneX)).attr("fill","none").attr("stroke",RED).attr("stroke-width",2.5).attr("stroke-linejoin","round");

  // unit + legend
  g.append("text").attr("x",c.unit[0]).attr("y",c.unit[1]).attr("font-size",8).attr("fill","#333").text("（单位：%）");
  c.leg.forEach(l => {
    g.append("line").attr("x1",l.x).attr("x2",l.x+27).attr("y1",l.y).attr("y2",l.y).attr("stroke", l.red?RED:BLUE).attr("stroke-width", l.red?2.5:1.2);
    g.append("text").attr("x",l.tx).attr("y",l.y).attr("dy","0.35em").attr("font-size",9).attr("fill","#333").text(l.t);
  });

  // source
  g.append("line").attr("x1",colX1).attr("x2",c.ruleX2).attr("y1",c.srcLine).attr("y2",c.srcLine).attr("stroke","#c3cad3");
  g.append("text").attr("x",colX1).attr("y",c.srcY).attr("font-size",7.5).attr("fill","#8c8c8c").text("资料来源：Haver，华泰研究预测");
}
charts.forEach(drawChart);
</script></body></html>
